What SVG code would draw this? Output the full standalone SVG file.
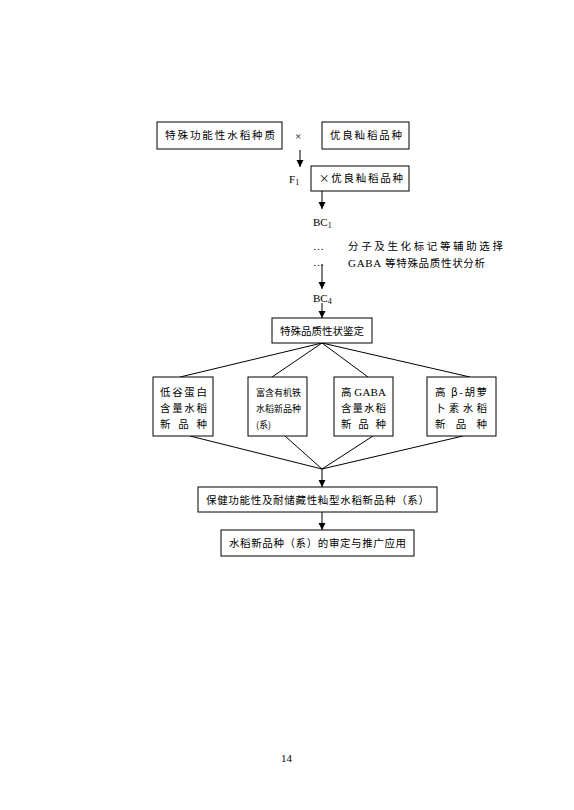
<svg xmlns="http://www.w3.org/2000/svg" width="574" height="810" viewBox="0 0 574 810">
<style>
.bx{fill:#fff;stroke:#000;stroke-width:1}
.t{font-family:"Noto Sans CJK SC","Liberation Serif",serif;font-size:10.5px;fill:#000}
.s{font-size:9px}
.l{font-family:"Liberation Serif","Noto Sans CJK SC",serif;font-size:11px;fill:#000}
.ln{stroke:#000;stroke-width:1;fill:none}
</style>
<defs>
<marker id="ah" markerWidth="8" markerHeight="8" refX="7" refY="4" orient="auto" markerUnits="userSpaceOnUse">
<path d="M0,0.5 L7,4 L0,7.5 Z" fill="#000"/>
</marker>
</defs>
<rect width="574" height="810" fill="#fff"/>
<g id="connectors">
<line class="ln" x1="300" y1="150" x2="300" y2="167" marker-end="url(#ah)"/>
<line class="ln" x1="322" y1="191" x2="322" y2="209" marker-end="url(#ah)"/>
<line class="ln" x1="322" y1="264" x2="322" y2="289" marker-end="url(#ah)"/>
<line class="ln" x1="322" y1="303" x2="322" y2="318" marker-end="url(#ah)"/>
<line class="ln" x1="322" y1="343" x2="180" y2="377"/>
<line class="ln" x1="322" y1="343" x2="272" y2="377"/>
<line class="ln" x1="322" y1="343" x2="368" y2="377"/>
<line class="ln" x1="322" y1="343" x2="470" y2="377"/>
<line class="ln" x1="190" y1="436" x2="322" y2="469"/>
<line class="ln" x1="285" y1="436" x2="322" y2="469"/>
<line class="ln" x1="373" y1="436" x2="322" y2="469"/>
<line class="ln" x1="463" y1="436" x2="322" y2="469"/>
<line class="ln" x1="322" y1="469" x2="322" y2="487" marker-end="url(#ah)"/>
<line class="ln" x1="322" y1="512" x2="322" y2="530" marker-end="url(#ah)"/>
</g>
<g id="n1"><rect class="bx" x="157" y="122" width="125" height="27"/><text class="t" x="165" y="139" textLength="110" lengthAdjust="spacing">特殊功能性水稻种质</text></g>
<g id="cross"><text class="l" x="295" y="140" font-size="13">×</text></g>
<g id="n2"><rect class="bx" x="322" y="122" width="87" height="27"/><text class="t" x="330" y="139" textLength="72" lengthAdjust="spacing">优良籼稻品种</text></g>
<g id="f1"><text class="l" x="289" y="183">F<tspan font-size="8" dy="2">1</tspan></text></g>
<g id="n3"><rect class="bx" x="311" y="166" width="98" height="25"/><text class="t" x="319" y="182" textLength="84" lengthAdjust="spacing">×优良籼稻品种</text></g>
<g id="bc1"><text class="l" x="313" y="226">BC<tspan font-size="8" dy="2">1</tspan></text></g>
<g id="dots"><text class="l" x="313" y="250">…</text><text class="l" x="313" y="266">…</text></g>
<g id="note"><text class="t" x="348" y="250" textLength="155" lengthAdjust="spacing">分子及生化标记等辅助选择</text><text class="t" x="348" y="267" textLength="137" lengthAdjust="spacing"><tspan class="l">GABA</tspan> 等特殊品质性状分析</text></g>
<g id="bc4"><text class="l" x="313" y="302">BC<tspan font-size="8" dy="2">4</tspan></text></g>
<g id="n4"><rect class="bx" x="272" y="318" width="100" height="25"/><text class="t" x="280" y="335" textLength="84" lengthAdjust="spacing">特殊品质性状鉴定</text></g>
<g id="nA"><rect class="bx" x="153" y="377" width="60" height="59"/>
<text class="t" x="160" y="396" textLength="47" lengthAdjust="spacing">低谷蛋白</text>
<text class="t" x="160" y="412" textLength="47" lengthAdjust="spacing">含量水稻</text>
<text class="t" x="160" y="428" textLength="47" lengthAdjust="spacing">新 品 种</text></g>
<g id="nB"><rect class="bx" x="248" y="377" width="59" height="59"/>
<text class="t s" x="256" y="396" textLength="45" lengthAdjust="spacing">富含有机铁</text>
<text class="t s" x="256" y="412" textLength="45" lengthAdjust="spacing">水稻新品种</text>
<text class="t s" x="256" y="428">(系)</text></g>
<g id="nC"><rect class="bx" x="334" y="377" width="59" height="59"/>
<text class="t" x="341" y="396" textLength="45" lengthAdjust="spacing">高 <tspan class="l">GABA</tspan></text>
<text class="t" x="341" y="412" textLength="45" lengthAdjust="spacing">含量水稻</text>
<text class="t" x="341" y="428" textLength="45" lengthAdjust="spacing">新 品 种</text></g>
<g id="nD"><rect class="bx" x="427" y="377" width="69" height="59"/>
<text class="t" x="435" y="396" textLength="52" lengthAdjust="spacing">高 β-胡萝</text>
<text class="t" x="435" y="412" textLength="52" lengthAdjust="spacing">卜素水稻</text>
<text class="t" x="435" y="428" textLength="52" lengthAdjust="spacing">新 品 种</text></g>
<g id="n5"><rect class="bx" x="198" y="487" width="239" height="25"/><text class="t" x="206" y="504" textLength="223" lengthAdjust="spacing">保健功能性及耐储藏性籼型水稻新品种（系）</text></g>
<g id="n6"><rect class="bx" x="221" y="530" width="193" height="26"/><text class="t" x="229" y="547" textLength="177" lengthAdjust="spacing">水稻新品种（系）的审定与推广应用</text></g>
<g id="page"><text class="l" x="281" y="762">14</text></g>
</svg>
